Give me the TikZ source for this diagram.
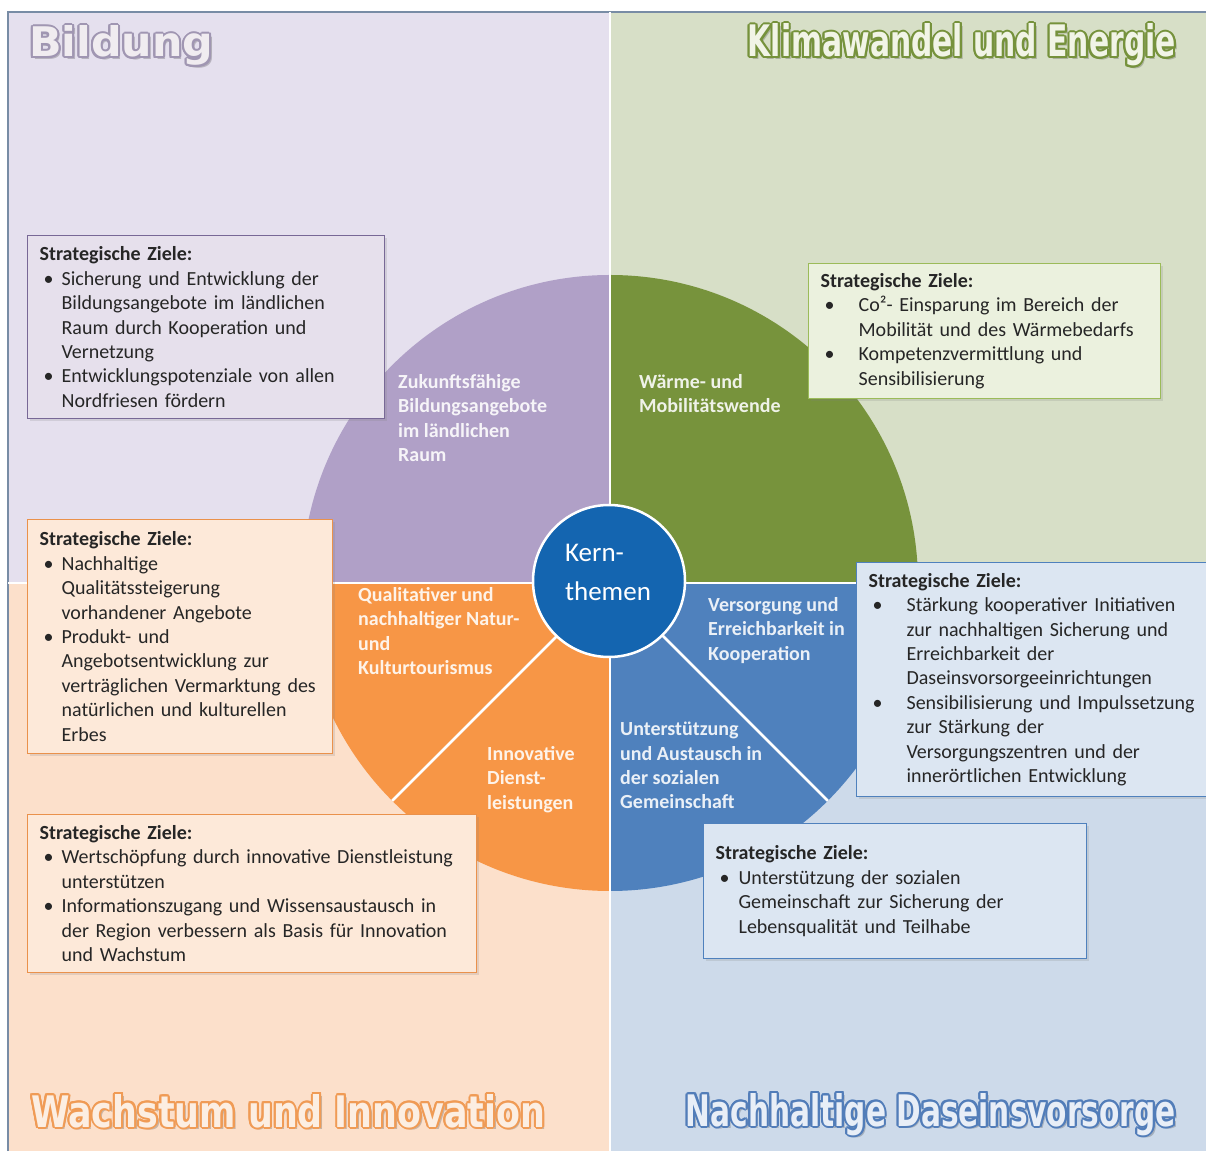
\documentclass[tikz,border=0pt]{standalone}
\usepackage{fontspec}
\setmainfont{Carlito}
\newfontfamily\titlefont{DejaVu Sans}
\usetikzlibrary{positioning, shadows}

% Flaechen und Raender
\definecolor{rahmen}{RGB}{120,140,165}
\definecolor{bildbg}{RGB}{229,224,238}
\definecolor{klimabg}{RGB}{215,223,199}
\definecolor{wachsbg}{RGB}{252,224,203}
\definecolor{daseinbg}{RGB}{205,218,234}
\definecolor{bildpie}{RGB}{176,160,199}
\definecolor{klimapie}{RGB}{119,147,60}
\definecolor{wachspie}{RGB}{247,150,70}
\definecolor{daseinpie}{RGB}{79,129,189}
\definecolor{kernblau}{RGB}{20,101,176}
\definecolor{bildbox}{RGB}{230,224,236}
\definecolor{bildrand}{RGB}{120,104,150}
\definecolor{klimabox}{RGB}{235,241,222}
\definecolor{klimarand}{RGB}{155,187,89}
\definecolor{wachsbox}{RGB}{253,233,217}
\definecolor{wachsrand}{RGB}{234,145,75}
\definecolor{daseinbox}{RGB}{220,230,242}
\definecolor{daseinrand}{RGB}{79,129,189}
% Titelschrift: Kontur und Fuellung
\definecolor{bildline}{RGB}{160,150,178}
\definecolor{bildhell}{RGB}{240,236,240}
\definecolor{klimaline}{RGB}{118,146,60}
\definecolor{klimahell}{RGB}{241,244,230}
\definecolor{wachsline}{RGB}{240,155,85}
\definecolor{wachshell}{RGB}{252,238,226}
\definecolor{daseinline}{RGB}{82,125,185}
\definecolor{daseinhell}{RGB}{232,238,247}

\newcommand{\zielfont}{\fontsize{20}{24.4}\selectfont}
\newcommand{\feldfont}{\bfseries\fontsize{20}{24.4}\selectfont}
\newcommand{\zpunkt}[2][22pt]{\par\noindent\hangindent=#1\hangafter=1\makebox[#1][l]{\hspace{4pt}\textbullet}#2\par}
\newcommand{\titelsatz}[3]{\resizebox{#1}{#2}{\titlefont\bfseries #3}}

\begin{document}
\begin{tikzpicture}[x=1pt, y=1pt,
    zielbox/.style={draw=#1rand, fill=#1box, line width=1.2pt, anchor=north west, align=left,
      inner xsep=12pt, inner ysep=5pt, font=\zielfont, text=black!85,
      drop shadow={opacity=0.2, shadow xshift=2pt, shadow yshift=-2pt}},
    feld/.style={anchor=north west, align=left, inner sep=0pt, font=\feldfont, text=white!88!#1pie},
    titel/.style={inner sep=0pt},
    kern/.style={circle, fill=kernblau, draw=white, line width=2.5pt, minimum size=152pt},
    trenner/.style={white, line width=2.5pt}
]
    \useasboundingbox (0,0) rectangle (1206,1151);
    \fill[white] (0,0) rectangle (1206,1151);

    % Quadranten
    \fill[bildbg] (8,568) rectangle (610,1139);
    \fill[klimabg] (610,568) rectangle (1206,1139);
    \fill[wachsbg] (8,0) rectangle (610,568);
    \fill[daseinbg] (610,0) rectangle (1206,568);
    \draw[rahmen, line width=1.5pt] (8,0) -- (8,1139) -- (1206,1139);

    % Kreis mit vier Feldern
    \coordinate (mitte) at (610,568);
    \fill[bildpie] (mitte) -- ++(90:308) arc (90:180:308) -- cycle;
    \fill[klimapie] (mitte) -- ++(0:308) arc (0:90:308) -- cycle;
    \fill[wachspie] (mitte) -- ++(180:308) arc (180:270:308) -- cycle;
    \fill[daseinpie] (mitte) -- ++(270:308) arc (270:360:308) -- cycle;
    \draw[trenner] (8,568) -- (1206,568);
    \draw[trenner] (610,0) -- (610,1139);
    \foreach \w in {225,315}
        \draw[trenner] (mitte) -- ++(\w:308);

    % Kernthemen
    \node[kern] (kern) at (609,570) {};
    \node[text=white, font=\fontsize{27}{39}\selectfont, align=left] (kerntext) at (608,579) {Kern-\\themen};

    % Felder
    \node[feld=bild] (zukunft) at (398,777) {Zukunftsfähige\\Bildungsangebote\\im ländlichen\\Raum};
    \node[feld=klima] (waerme) at (639,777) {Wärme- und\\Mobilitätswende};
    \node[feld=wachs] (tourismus) at (358,564) {Qualitativer und\\nachhaltiger Natur-\\und\\Kulturtourismus};
    \node[feld=wachs] (dienst) at (487,405) {Innovative\\Dienst-\\leistungen};
    \node[feld=dasein] (versorgung) at (708,554) {Versorgung und\\Erreichbarkeit in\\Kooperation};
    \node[feld=dasein] (gemeinschaft) at (620,429) {Unterstützung\\und Austausch in\\der sozialen\\Gemeinschaft};

    % Strategische Ziele
    \node[zielbox=bild, text width=333pt, minimum height=183pt] (bildziele) at (27,916) {%
        \noindent\textbf{Strategische Ziele:}
        \zpunkt{Sicherung und Entwicklung der\newline Bildungsangebote im ländlichen\newline Raum durch Kooperation und\newline Vernetzung}
        \zpunkt{Entwicklungspotenziale von allen\newline Nordfriesen fördern}};
    \node[zielbox=klima, text width=328pt, minimum height=135pt] (klimaziele) at (808,888) {%
        \noindent\textbf{Strategische Ziele:}
        \zpunkt[38pt]{Co²- Einsparung im Bereich der\newline Mobilität und des Wärmebedarfs}
        \zpunkt[38pt]{Kompetenzvermittlung und\newline Sensibilisierung}};
    \node[zielbox=wachs, text width=281pt, minimum height=234pt] (tourziele) at (27,632) {%
        \noindent\textbf{Strategische Ziele:}
        \zpunkt{Nachhaltige\newline Qualitätssteigerung\newline vorhandener Angebote}
        \zpunkt{Produkt- und\newline Angebotsentwicklung zur\newline verträglichen Vermarktung des\newline natürlichen und kulturellen\newline Erbes}};
    \node[zielbox=wachs, text width=425pt, minimum height=158pt] (innoziele) at (27,337) {%
        \noindent\textbf{Strategische Ziele:}
        \zpunkt{Wertschöpfung durch innovative Dienstleistung\newline unterstützen}
        \zpunkt{Informationszugang und Wissensaustausch in\newline der Region verbessern als Basis für Innovation\newline und Wachstum}};
    \node[zielbox=dasein, text width=330pt, minimum height=234pt] (versziele) at (856,589) {%
        \noindent\textbf{Strategische Ziele:}
        \zpunkt[38pt]{Stärkung kooperativer Initiativen\newline zur nachhaltigen Sicherung und\newline Erreichbarkeit der\newline Daseinsvorsorgeeinrichtungen}
        \zpunkt[38pt]{Sensibilisierung und Impulssetzung\newline zur Stärkung der\newline Versorgungszentren und der\newline innerörtlichen Entwicklung}};
    \node[zielbox=dasein, text width=359pt, minimum height=135pt] (gemziele) at (703,328) {%
        \noindent\textbf{Strategische Ziele:}
        \zpunkt[23pt]{Unterstützung der sozialen\newline Gemeinschaft zur Sicherung der\newline Lebensqualität und Teilhabe}};

    % Titel mit Kontur und Schatten
    \foreach \tx/\ty/\seite/\breite/\hoehe/\farbe/\wort in {
        29/1094/west/184/31/bild/Bildung,
        1176/1094/east/428/33/klima/Klimawandel und Energie,
        31/24/west/514/33/wachs/Wachstum und Innovation,
        1176/25/east/490/33/dasein/Nachhaltige Daseinsvorsorge}
    {
        \node[titel, anchor=base \seite, text=black, text opacity=0.2] at (\tx+2.5,\ty-2.5) {\titelsatz{\breite pt}{\hoehe pt}{\wort}};
        \foreach \w in {0,22.5,...,337.5}
            \node[titel, anchor=base \seite, text=\farbe line, shift={(\w:2)}] at (\tx,\ty) {\titelsatz{\breite pt}{\hoehe pt}{\wort}};
        \node[titel, anchor=base \seite, text=\farbe hell] (titel-\farbe) at (\tx,\ty) {\titelsatz{\breite pt}{\hoehe pt}{\wort}};
    }
\end{tikzpicture}
\end{document}
